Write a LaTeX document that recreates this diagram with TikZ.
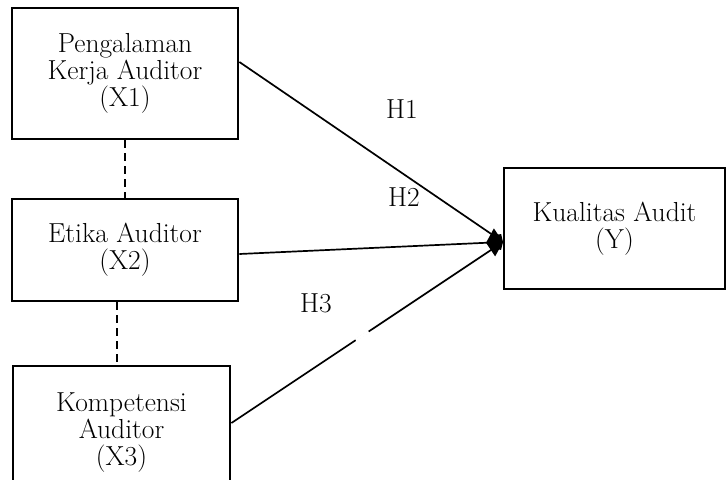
\documentclass[tikz,border=0pt]{standalone}
\usetikzlibrary{arrows.meta,calc}
\begin{document}
\begin{tikzpicture}[x=1pt,y=-1pt,
  box/.style={draw, line width=2.8pt, align=center, inner sep=0pt, font=\fontsize{27.5}{27}\selectfont},
  link/.style={line width=1.7pt, -{Kite[length=12pt,width=11pt,inset=6pt]}},
  mainlink/.style={line width=1.7pt, -{Kite[length=17pt,width=28pt,inset=8.5pt]}},
  corr/.style={line width=1.8pt, dash pattern=on 8pt off 5pt},
  hlabel/.style={inner sep=0pt, font=\fontsize{27.5}{27}\selectfont}]
\useasboundingbox (0,0) rectangle (727,479);
\node[box, minimum width=226pt, minimum height=131pt] (x1) at (125,73.5) {Pengalaman\\Kerja Auditor\\(X1)};
\node[box, minimum width=226pt, minimum height=102pt] (x2) at (125,250) {Etika Auditor\\(X2)};
\node[box, minimum width=217pt, minimum height=134pt] (x3) at (121.5,433) {Kompetensi\\Auditor\\(X3)};
\node[box, minimum width=221pt, minimum height=121pt] (y) at (614.5,228.5) {Kualitas Audit\\(Y)};
\coordinate (c2) at (117,0);
\coordinate (tip) at (503,242);
\coordinate (s1) at ([yshift=11.5pt]x1.east);
\coordinate (s2) at ([yshift=-4pt]x2.east);
\coordinate (s3) at ([yshift=10pt]x3.east);
\draw[corr] (x1.south) -- (x2.north);
\draw[corr] (x2.south -| c2) -- (x3.north -| c2);
\draw[link] (s1) -- (tip);
\draw[link] (s3) -- (tip);
\draw[mainlink] (s2) -- (tip);
\draw[white, line width=3pt] ($(s3)!0.458!(tip)$) -- ($(s3)!0.505!(tip)$);
\node[hlabel] (h1) at (402,109) {H1};
\node[hlabel] (h2) at (404,197) {H2};
\node[hlabel] (h3) at (316,303) {H3};
\end{tikzpicture}
\end{document}
